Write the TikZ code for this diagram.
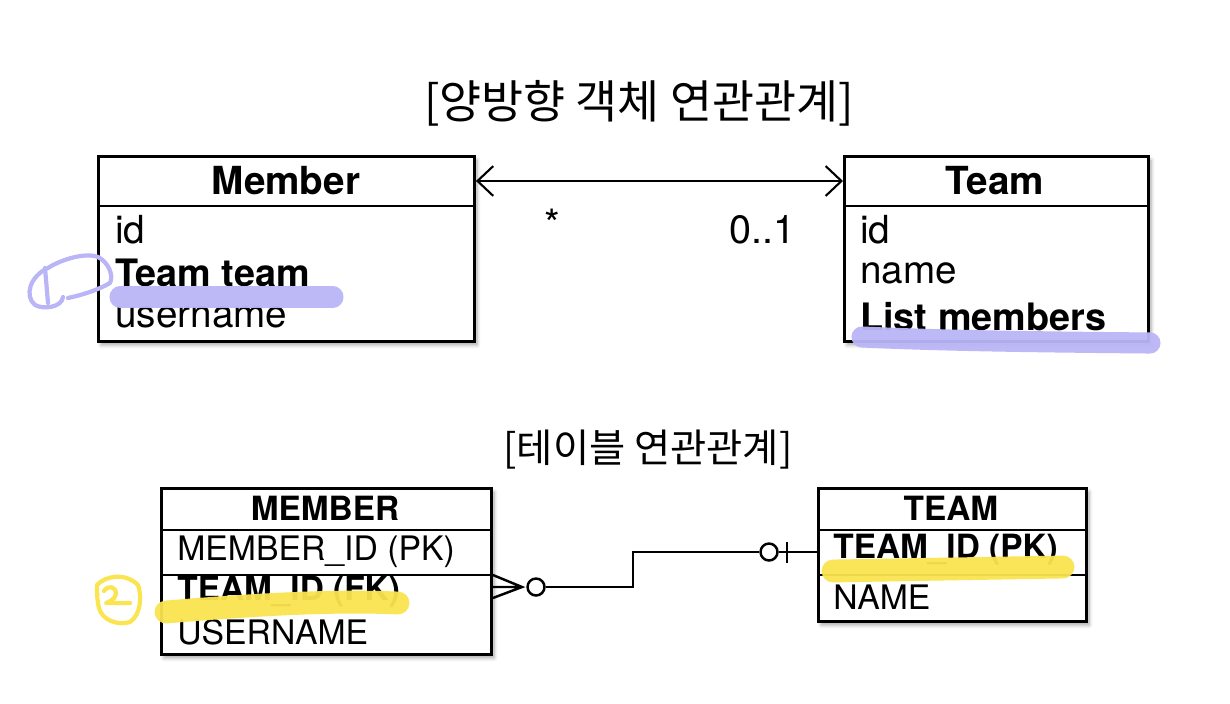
\documentclass[tikz,border=0pt]{standalone}
\usepackage{fontspec}
\setmainfont{TeX Gyre Heros}
\newfontfamily\kr{Noto Sans CJK KR}
\usetikzlibrary{arrows.meta,shadows.blur}
\definecolor{penpurple}{RGB}{186,181,246}
\definecolor{penyellow}{RGB}{250,228,80}
\tikzset{
  box/.style={draw, line width=1.7pt, fill=white, anchor=north west,
    blur shadow={shadow xshift=1.5pt, shadow yshift=-2pt, shadow blur steps=6, shadow opacity=35}},
  head/.style={font=\fontsize{22}{25}\selectfont\bfseries},
  attr/.style={anchor=west, inner sep=0pt, font=\fontsize{22}{25}\selectfont},
  tblhead/.style={font=\fontsize{19}{22}\selectfont\bfseries},
  col/.style={anchor=west, inner sep=0pt, font=\fontsize{19.2}{22}\selectfont},
  ring/.style={draw, circle, line width=1.4pt, minimum size=0.34cm, inner sep=0pt, fill=white},
  penmark/.style={line cap=round, line join=round, line width=12pt, opacity=.95}
}
\begin{document}
\begin{tikzpicture}[x=0.02cm, y=-0.02cm]
\useasboundingbox (0,0) rectangle (1230,703);
% titles
\node[font=\kr\fontsize{26}{29}\selectfont] (objtitle) at (639,103) {[양방향 객체 연관관계]};
\node[font=\kr\fontsize{22.4}{25}\selectfont] (tbltitle) at (648,450) {[테이블 연관관계]};

% object diagram
\node[box, minimum width=7.52cm, minimum height=3.7cm] (member) at (97,155) {};
\node[box, minimum width=6.08cm, minimum height=3.7cm] (team) at (843,155) {};
\draw[line width=1.7pt] (97,206) -- (473,206);
\draw[line width=1.7pt] (843,206) -- (1147,206);
\node[head] (memberhead) at (286,181) {Member};
\node[head] (teamhead) at (995,181) {Team};
\node[attr] (mid) at (115,230) {id};
\node[attr, font=\fontsize{21.5}{25}\selectfont\bfseries] (mteam) at (115,273) {Team team};
\node[attr] (muser) at (115,317) {username};
\node[attr] (tid) at (860,230) {id};
\node[attr] (tname) at (860,273) {name};
\node[attr, font=\fontsize{21.5}{25}\selectfont\bfseries] (tlist) at (860,317) {List members};
\draw[line width=1.2pt, {Straight Barb[length=9pt, width=17pt]}-{Straight Barb[length=9pt, width=17pt]}]
  (member.east |- memberhead) -- (team.west |- teamhead);
\node[font=\fontsize{23}{26}\selectfont] (many) at (552,224) {*};
\node[font=\fontsize{22.5}{26}\selectfont] (one) at (762,230) {0..1};

% table diagram
\node[box, minimum width=6.6cm, minimum height=3.32cm] (mtbl) at (160,487) {};
\node[box, minimum width=5.36cm, minimum height=2.66cm] (ttbl) at (817,487) {};
\draw[line width=1.5pt] (160,530) -- (490,530) (160,575) -- (490,575);
\draw[line width=1.5pt] (817,530) -- (1085,530) (817,575) -- (1085,575);
\node[tblhead] (mtblhead) at (325,508) {MEMBER};
\node[tblhead] (ttblhead) at (951,508) {TEAM};
\node[col] (mpk) at (177,552) {MEMBER\_ID (PK)};
\node[col, font=\fontsize{19}{22}\selectfont\bfseries] (mfk) at (177,592) {TEAM\_ID (FK)};
\node[col] (muname) at (177,632) {USERNAME};
\node[col, font=\fontsize{19}{22}\selectfont\bfseries] (tpk) at (833,550) {TEAM\_ID (PK)};
\node[col] (tnm) at (833,597) {NAME};

% crow's foot relation
\coordinate (fk) at (mtbl.east |- 0,587);
\coordinate (pk) at (ttbl.west |- 0,552);
\coordinate (apex) at (522,587);
\node[ring] (mcirc) at (536,587) {};
\node[ring] (tcirc) at (769,552) {};
\draw[line width=1.4pt] (mtbl.east |- 0,575) -- (apex) -- (mtbl.east |- 0,598) (fk) -- (apex);
\draw[line width=1.4pt] (mcirc) -- (633,587) -- (633,552) -- (tcirc);
\draw[line width=1.4pt] (tcirc) -- (pk) (787,542) -- (787,563);

% pen marks
\draw[penmark, penpurple] (120,297) -- (333,297);
\draw[penmark, penpurple] (862,337) .. controls (950,341) and (1050,342) .. (1150,343);
\draw[penpurple, line width=2.4pt, line cap=round, line join=round]
  (68,298) .. controls (82,295) and (98,290) .. (110,283)
  .. controls (114,275) and (108,262) .. (98,257)
  .. controls (85,252) and (60,260) .. (48,268)
  .. controls (30,276) and (24,296) .. (35,305)
  .. controls (44,310) and (62,307) .. (63,297);
\draw[penpurple, line width=2.4pt, line cap=round] (45,268) -- (48,303);
\draw[penmark, penyellow, line width=13pt] (166,612) .. controls (250,605) and (330,600) .. (398,603);
\draw[penmark, penyellow, line width=13pt] (833,571) -- (1063,567);
\draw[penyellow, line width=2.4pt, line cap=round, line join=round]
  (97,585) .. controls (105,576) and (125,572) .. (138,585)
  .. controls (142,595) and (141,615) .. (130,622)
  .. controls (118,626) and (102,620) .. (99,608)
  .. controls (97,600) and (97,592) .. (97,585);
\draw[penyellow, line width=2.4pt, line cap=round, line join=round]
  (104,591) .. controls (108,585) and (116,586) .. (116,594)
  .. controls (115,600) and (108,602) .. (106,603) -- (130,603);
\end{tikzpicture}
\end{document}
